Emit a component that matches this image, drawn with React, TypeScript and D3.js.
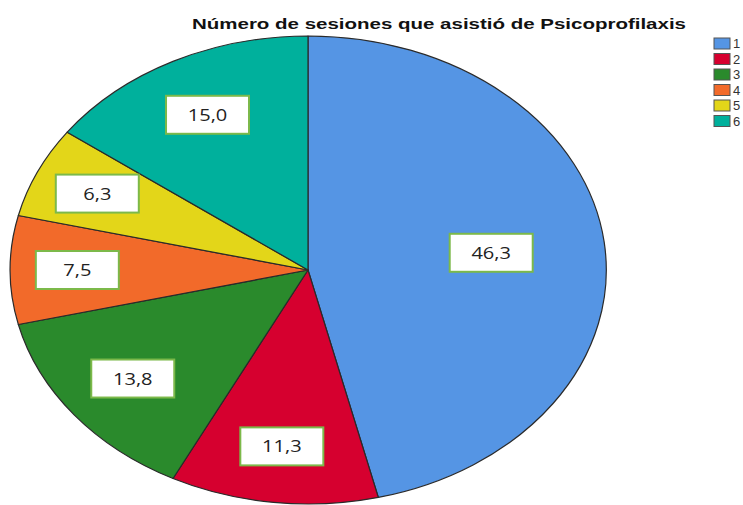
import * as d3 from "d3";
import React, { useRef, useEffect } from "react";

const title = "Número de sesiones que asistió de Psicoprofilaxis";
const categories = ["1", "2", "3", "4", "5", "6"];
const percents = [46.3, 11.3, 13.8, 7.5, 6.3, 15.0];
const colors = ["#5595e4", "#d6002f", "#2a8a2c", "#f26a2a", "#e3d619", "#00b09c"];

const App = () => {
  const ref = useRef<SVGSVGElement>(null);
  const width = 743;
  const height = 505;

  useEffect(() => {
    const svg = d3.select(ref.current);
    svg.selectAll("*").remove();

    const cx = 308;
    const cy = 270;
    const rx = 298;
    const ry = 234;

    const data = categories.map((c, i) => ({ cat: c, value: percents[i], color: colors[i] }));
    const pie = d3.pie<any>().sort(null).value((d) => d.value);
    const arcs = pie(data);
    const arc = d3.arc<any>().innerRadius(0).outerRadius(1);

    // title (the source picture is stretched sideways)
    svg
      .append("text")
      .attr("x", 439)
      .attr("y", 29)
      .attr("text-anchor", "middle")
      .attr("font-family", "Liberation Sans, Arial, sans-serif")
      .attr("font-weight", "bold")
      .attr("font-size", 15)
      .attr("fill", "#111")
      .attr("textLength", 494)
      .attr("lengthAdjust", "spacingAndGlyphs")
      .text(title);

    // ellipse pie: draw a unit pie and stretch it
    const g = svg.append("g").attr("transform", `translate(${cx},${cy}) scale(${rx},${ry})`);
    g.selectAll("path")
      .data(arcs)
      .enter()
      .append("path")
      .attr("d", (d) => arc(d) as string)
      .attr("fill", (d) => d.data.color)
      .attr("stroke", "#2a2a2a")
      .attr("stroke-width", 1.2)
      .attr("vector-effect", "non-scaling-stroke")
      .attr("stroke-linejoin", "round");

    // value labels
    const total = d3.sum(percents);
    const lab = svg.append("g");
    arcs.forEach((d) => {
      const mid = (d.startAngle + d.endAngle) / 2;
      const frac = d.data.value / total;
      const k = 0.78 - 0.4 * (frac - 0.06);
      const x = cx + k * rx * Math.sin(mid);
      const y = cy - k * ry * Math.cos(mid);
      const bw = 83;
      const bh = 38;
      lab
        .append("rect")
        .attr("x", x - bw / 2)
        .attr("y", y - bh / 2)
        .attr("width", bw)
        .attr("height", bh)
        .attr("fill", "#fff")
        .attr("stroke", "#7cb94a")
        .attr("stroke-width", 2);
      lab
        .append("text")
        .attr("transform", `translate(${x},${y + 6}) scale(1.18,1)`)
        .attr("text-anchor", "middle")
        .attr("font-family", "Open Sans, sans-serif")
        .attr("font-size", 17)
        .attr("fill", "#222")
        .text(d3.format(".1f")(d.data.value).replace(".", ","));
    });

    // legend
    const leg = svg.append("g").attr("transform", "translate(714,38)");
    const items = leg
      .selectAll("g")
      .data(data)
      .enter()
      .append("g")
      .attr("transform", (d, i) => `translate(0,${i * 15.5})`);
    items
      .append("rect")
      .attr("width", 16)
      .attr("height", 11)
      .attr("fill", (d) => d.color)
      .attr("stroke", "#555")
      .attr("stroke-width", 1);
    items
      .append("text")
      .attr("x", 19)
      .attr("y", 10)
      .attr("font-family", "Liberation Sans, Arial, sans-serif")
      .attr("font-size", 13)
      .attr("fill", "#333")
      .text((d) => d.cat);
  }, []);

  return (
    <svg
      ref={ref}
      width={width}
      height={height}
      style={{ position: "absolute", left: 0, top: 0, background: "#fff" }}
    />
  );
};

export default App;
